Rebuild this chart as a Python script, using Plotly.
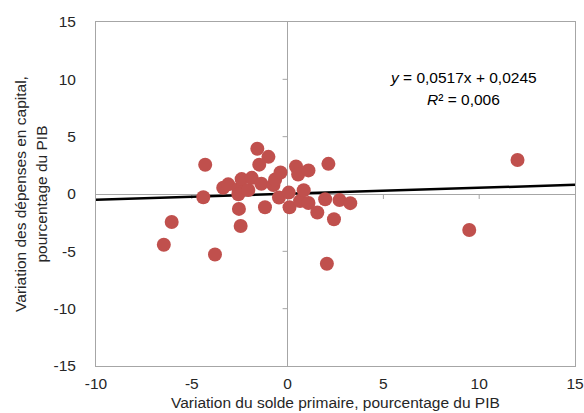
import plotly.graph_objects as go

# Data
solde_primaire = [-6.46, -6.05, -4.30, -4.40, -3.79, -3.36, -3.10, -2.57, -2.57, -2.54,
                  -2.45, -2.40, -2.05, -1.87, -1.58, -1.00, -1.48, -1.37, -1.18, -0.74,
                  -0.65, -0.37, -0.45, 0.06, 0.10, 0.44, 0.55, 0.65, 0.84, 1.09,
                  1.09, 1.96, 2.13, 2.71, 3.27, 1.55, 2.42, 2.05, 9.48, 12.0]
depenses_capital = [-4.42, -2.44, 2.55, -0.28, -5.28, 0.55, 0.84, 0.41, -0.03, -1.30,
                    -2.79, 1.30, 0.35, 1.41, 3.95, 3.24, 2.56, 0.90, -1.15, 0.78,
                    1.27, 1.88, -0.30, 0.12, -1.15, 2.40, 1.70, -0.62, 0.33, 2.06,
                    -0.78, -0.46, 2.63, -0.53, -0.80, -1.61, -2.20, -6.08, -3.14, 2.96]
slope = 0.0517
intercept = 0.0245
x_range = [-10, 15]
y_range = [-15, 15]
x_ticks = [-10, -5, 0, 5, 10, 15]
x_tick_labels = ["-10", "-5", "0", "5", "10", "15"]
y_ticks = [-15, -10, -5, 0, 5, 10, 15]
y_tick_labels = ["-15", "-10", "-5", "0", "5", "10", "15"]

font_family = "Liberation Sans, Arial, sans-serif"
axis_grey = "#A6A6A6"
text_col = "#262626"
FS = 15.5

W, H = 584, 413
ML, MR, MT, MB = 96, 9, 22, 47

fig = go.Figure()
fig.add_trace(go.Scatter(
    x=x_range, y=[slope * v + intercept for v in x_range],
    mode="lines", line=dict(color="black", width=2.5), hoverinfo="skip", showlegend=False))
fig.add_trace(go.Scatter(
    x=solde_primaire, y=depenses_capital, mode="markers",
    marker=dict(color="#C0504D", size=14, line=dict(width=0)), showlegend=False))

shapes = []
for t in x_ticks[1:-1]:
    if t == 0:
        continue
    shapes.append(dict(type="line", xref="x", yref="y", x0=t, x1=t, ysizemode="pixel",
                       yanchor=0, y0=0, y1=-5, line=dict(color=axis_grey, width=1), layer="below"))
for t in y_ticks[1:-1]:
    if t == 0:
        continue
    shapes.append(dict(type="line", xref="x", yref="y", y0=t, y1=t, xsizemode="pixel",
                       xanchor=0, x0=0, x1=-5, line=dict(color=axis_grey, width=1), layer="below"))


def px_to_paper(px, py):
    return (px - ML) / (W - ML - MR), 1 - (py - MT) / (H - MT - MB)


ax1, ay1 = px_to_paper(463, 77)
ax2, ay2 = px_to_paper(463, 100)
tx, ty = px_to_paper(335, 402)

fig.update_layout(
    width=W, height=H,
    margin=dict(l=ML, r=MR, t=MT, b=MB),
    paper_bgcolor="white", plot_bgcolor="white",
    font=dict(family=font_family, size=FS, color=text_col),
    shapes=shapes,
    annotations=[
        dict(text="<i>y</i> = 0,0517x + 0,0245", x=ax1, y=ay1, xref="paper", yref="paper",
             xanchor="center", yanchor="middle",
             showarrow=False, font=dict(size=FS, color="black")),
        dict(text="<i>R</i>² = 0,006", x=ax2, y=ay2, xref="paper", yref="paper",
             xanchor="center", yanchor="middle",
             showarrow=False, font=dict(size=FS, color="black")),
        dict(text="Variation du solde primaire, pourcentage du PIB", x=tx, y=ty,
             xref="paper", yref="paper", xanchor="center", yanchor="middle",
             showarrow=False, font=dict(size=FS, color=text_col)),
    ],
)

fig.update_xaxes(range=x_range, tickvals=x_ticks, ticktext=x_tick_labels, ticks="", showgrid=False,
                 zeroline=True, zerolinecolor=axis_grey, zerolinewidth=1,
                 showline=True, linecolor=axis_grey, linewidth=1, mirror=True,
                 automargin=False, ticklabelstandoff=3, ticklabeloverflow="allow",
                 tickfont=dict(size=FS))
fig.update_yaxes(range=y_range, tickvals=y_ticks, ticktext=y_tick_labels, ticks="", showgrid=False,
                 zeroline=True, zerolinecolor=axis_grey, zerolinewidth=1,
                 showline=True, linecolor=axis_grey, linewidth=1, mirror=True,
                 automargin=False, ticklabelstandoff=16, tickfont=dict(size=FS),
                 title=dict(text="Variation des dépenses en capital,<br>pourcentage du PIB",
                            font=dict(size=FS), standoff=2))

# remove the default page margin so the figure fills the 584x413 window exactly
fig.write_html("out.html",
               config={"displayModeBar": False},
               post_script="document.body.style.margin='0';document.body.style.overflow='hidden';")
